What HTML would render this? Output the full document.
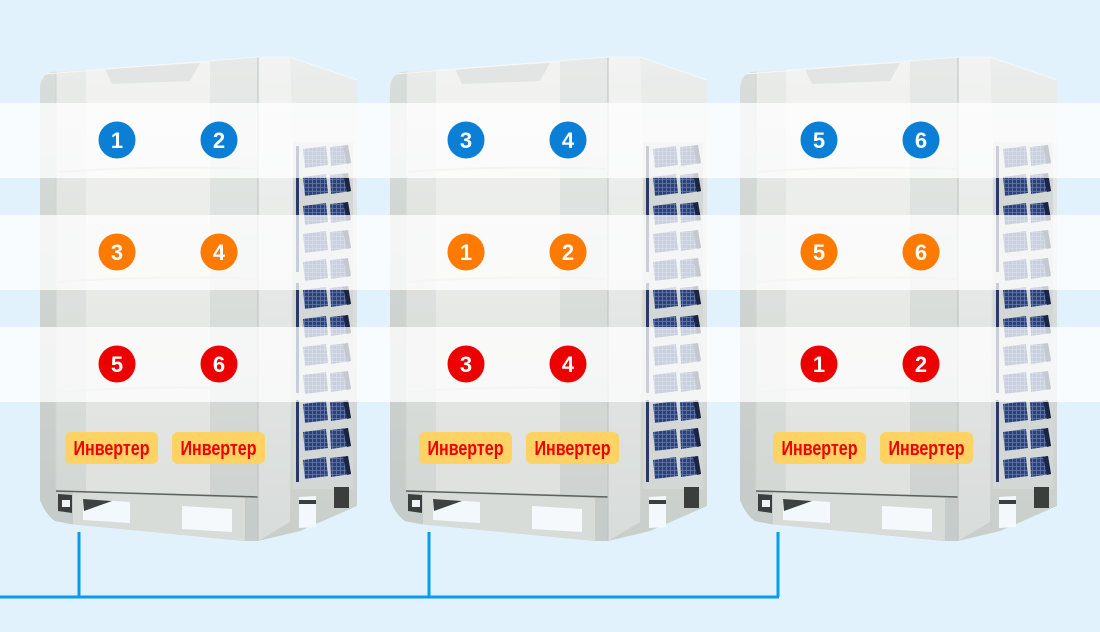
<!DOCTYPE html>
<html><head><meta charset="utf-8"><style>
html,body{margin:0;padding:0;background:#e1f2fc;}
svg{display:block}
.d{font-family:"Liberation Sans Narrow","Liberation Sans",sans-serif;font-weight:bold;font-size:22px;fill:#fff;text-anchor:middle}
.iv{font-family:"Liberation Sans Narrow","Liberation Sans",sans-serif;font-weight:bold;font-size:20px;fill:#f00000;text-anchor:middle}
</style></head><body>
<svg width="1100" height="632" viewBox="0 0 1100 632" xmlns="http://www.w3.org/2000/svg">
<defs>
 <linearGradient id="g1" x1="0" y1="0" x2="0" y2="1"><stop offset="0" stop-color="#d9dddb"/><stop offset="1" stop-color="#c4cac7"/></linearGradient>
 <linearGradient id="g2" x1="0" y1="0" x2="0" y2="1"><stop offset="0" stop-color="#eaecea"/><stop offset="1" stop-color="#d0d5d2"/></linearGradient>
 <linearGradient id="g3" x1="0" y1="0" x2="0" y2="1"><stop offset="0" stop-color="#f3f4f2"/><stop offset="1" stop-color="#dcdfdb"/></linearGradient>
 <linearGradient id="g4" x1="0" y1="0" x2="0" y2="1"><stop offset="0" stop-color="#e7eae8"/><stop offset="1" stop-color="#cbd1ce"/></linearGradient>
 <linearGradient id="gs" x1="0" y1="0" x2="0" y2="1"><stop offset="0" stop-color="#eceeed"/><stop offset="1" stop-color="#c8ceca"/></linearGradient>
 <linearGradient id="gp" x1="0" y1="0" x2="0" y2="1"><stop offset="0" stop-color="#f2f3f2"/><stop offset="1" stop-color="#d8dcda"/></linearGradient>
 <pattern id="mesh" width="4" height="4" patternUnits="userSpaceOnUse">
  <rect width="4" height="4" fill="#2c4276"/>
  <path d="M0,0.5H4M0.5,0V4" stroke="#6478ab" stroke-width="0.8"/>
 </pattern>
 <clipPath id="fc"><path d="M40,88 Q41,74 52,72 L258,57 L258,541 L245,541 L70,524 L55,521 Q46,515 40,500 Z"/></clipPath>
 <g id="fin">
  <polygon points="303,2 326,-1 328,18 305,21" fill="url(#mesh)"/>
  <polygon points="330,0 348,-2 351,16 331,19" fill="url(#mesh)"/>
  <polygon points="343,-1 348,-2 351,16 347,17" fill="#1b2542"/>
 </g>
 <g id="unit">
  <g clip-path="url(#fc)">
   <rect x="36" y="50" width="22" height="500" fill="url(#g1)"/>
   <rect x="56" y="50" width="30" height="500" fill="url(#g2)"/>
   <rect x="86" y="50" width="124" height="500" fill="url(#g3)"/>
   <rect x="210" y="50" width="48" height="500" fill="url(#g4)"/>
   <polygon points="105,69 200,63 190,81 112,84" fill="#e2e5e3"/>
   <path d="M58,172 Q150,165 256,169" stroke="#d0d5d2" stroke-width="2" fill="none"/>
   <path d="M58,282 Q150,275 256,279" stroke="#d0d5d2" stroke-width="2" fill="none"/>
   <path d="M58,392 Q150,385 256,389" stroke="#d0d5d2" stroke-width="2" fill="none"/>
   <path d="M36,490 L258,496 L258,548 L30,548 Z" fill="#c6ccc9"/>
   <polygon points="73,492 245,498 245,541 73,526" fill="#d7dcd9"/>
   <polygon points="83,499 130,502 130,523 83,520" fill="#f2f8fb"/>
   <polygon points="83,499 112,501 84,511" fill="#3c4240"/>
   <polygon points="182,506 232,509 232,532 182,529" fill="#f5f9fb"/>
   <polygon points="58,494 72,495 72,513 58,511" fill="#3a3f3d"/>
   <rect x="62" y="500" width="8" height="7" fill="#eef5f8"/>
   <line x1="56" y1="491" x2="258" y2="497" stroke="#5b625f" stroke-width="1.5"/>
   <line x1="56" y1="60" x2="56" y2="490" stroke="#cfd4d1" stroke-width="1"/>
  </g>
  <path d="M258,57 L290,57 L357,80 L357,506 L300,531 L258,541 Z" fill="url(#gs)"/>
  <path d="M258,57 L290,57 L293,140 L290,522 L258,541 Z" fill="url(#gp)"/>
  <line x1="258" y1="57" x2="258" y2="541" stroke="#bcc2bf" stroke-width="1"/>
  <rect x="293" y="142" width="60" height="347" fill="#d3d8d6"/>
  <rect x="296" y="146" width="3" height="126" fill="#2a3a66"/>
  <rect x="296" y="283" width="3" height="110" fill="#2a3a66"/>
  <rect x="296" y="400" width="3" height="82" fill="#2a3a66"/>
  <use href="#fin" y="147"/>
  <use href="#fin" y="175"/>
  <use href="#fin" y="204"/>
  <use href="#fin" y="232"/>
  <use href="#fin" y="260"/>
  <use href="#fin" y="288"/>
  <use href="#fin" y="317"/>
  <use href="#fin" y="345"/>
  <use href="#fin" y="373"/>
  <use href="#fin" y="402"/>
  <use href="#fin" y="430"/>
  <use href="#fin" y="458"/>
  <polygon points="299,497 316,496 316,527 299,528" fill="#f2f8fb"/>
  <rect x="299" y="500" width="17" height="4" fill="#3a3f3d"/>
  <rect x="334" y="487" width="15" height="21" fill="#3a3f3d"/>
  <path d="M46,74 L258,57 L290,57 L357,80" stroke="#f6f7f6" stroke-width="1" fill="none"/>
 </g>
</defs>
<rect width="1100" height="632" fill="#e1f2fc"/>
<use href="#unit"/>
<use href="#unit" x="350"/>
<use href="#unit" x="700"/>
<rect x="0" y="103" width="1100" height="75" fill="#fff" fill-opacity="0.75"/>
<rect x="0" y="215" width="1100" height="75" fill="#fff" fill-opacity="0.75"/>
<rect x="0" y="327" width="1100" height="75" fill="#fff" fill-opacity="0.75"/>
<g stroke="#0a9bea" stroke-width="3" fill="none">
 <path d="M0,597 H779"/>
 <path d="M79,532 V597"/>
 <path d="M429,532 V597"/>
 <path d="M778,532 V597"/>
</g>
<g>
 <circle cx="117" cy="140" r="18.5" fill="#0a7fd5"/><text class="d" x="117" y="148">1</text>
 <circle cx="219" cy="140" r="18.5" fill="#0a7fd5"/><text class="d" x="219" y="148">2</text>
 <circle cx="117" cy="252" r="18.5" fill="#ff7a00"/><text class="d" x="117" y="260">3</text>
 <circle cx="219" cy="252" r="18.5" fill="#ff7a00"/><text class="d" x="219" y="260">4</text>
 <circle cx="117" cy="364" r="18.5" fill="#ec0000"/><text class="d" x="117" y="372">5</text>
 <circle cx="219" cy="364" r="18.5" fill="#ec0000"/><text class="d" x="219" y="372">6</text>

 <circle cx="466" cy="140" r="18.5" fill="#0a7fd5"/><text class="d" x="466" y="148">3</text>
 <circle cx="568" cy="140" r="18.5" fill="#0a7fd5"/><text class="d" x="568" y="148">4</text>
 <circle cx="466" cy="252" r="18.5" fill="#ff7a00"/><text class="d" x="466" y="260">1</text>
 <circle cx="568" cy="252" r="18.5" fill="#ff7a00"/><text class="d" x="568" y="260">2</text>
 <circle cx="466" cy="364" r="18.5" fill="#ec0000"/><text class="d" x="466" y="372">3</text>
 <circle cx="568" cy="364" r="18.5" fill="#ec0000"/><text class="d" x="568" y="372">4</text>

 <circle cx="819" cy="140" r="18.5" fill="#0a7fd5"/><text class="d" x="819" y="148">5</text>
 <circle cx="921" cy="140" r="18.5" fill="#0a7fd5"/><text class="d" x="921" y="148">6</text>
 <circle cx="819" cy="252" r="18.5" fill="#ff7a00"/><text class="d" x="819" y="260">5</text>
 <circle cx="921" cy="252" r="18.5" fill="#ff7a00"/><text class="d" x="921" y="260">6</text>
 <circle cx="819" cy="364" r="18.5" fill="#ec0000"/><text class="d" x="819" y="372">1</text>
 <circle cx="921" cy="364" r="18.5" fill="#ec0000"/><text class="d" x="921" y="372">2</text>
</g>
<g>
 <rect x="65" y="432" width="93" height="32" rx="6" fill="#ffd264"/><text class="iv" x="111.5" y="455" textLength="76" lengthAdjust="spacingAndGlyphs">Инвертер</text>
 <rect x="172" y="432" width="93" height="32" rx="6" fill="#ffd264"/><text class="iv" x="218.5" y="455" textLength="76" lengthAdjust="spacingAndGlyphs">Инвертер</text>
 <rect x="419" y="432" width="93" height="32" rx="6" fill="#ffd264"/><text class="iv" x="465.5" y="455" textLength="76" lengthAdjust="spacingAndGlyphs">Инвертер</text>
 <rect x="526" y="432" width="93" height="32" rx="6" fill="#ffd264"/><text class="iv" x="572.5" y="455" textLength="76" lengthAdjust="spacingAndGlyphs">Инвертер</text>
 <rect x="773" y="432" width="93" height="32" rx="6" fill="#ffd264"/><text class="iv" x="819.5" y="455" textLength="76" lengthAdjust="spacingAndGlyphs">Инвертер</text>
 <rect x="880" y="432" width="93" height="32" rx="6" fill="#ffd264"/><text class="iv" x="926.5" y="455" textLength="76" lengthAdjust="spacingAndGlyphs">Инвертер</text>
</g>
</svg>
</body></html>
